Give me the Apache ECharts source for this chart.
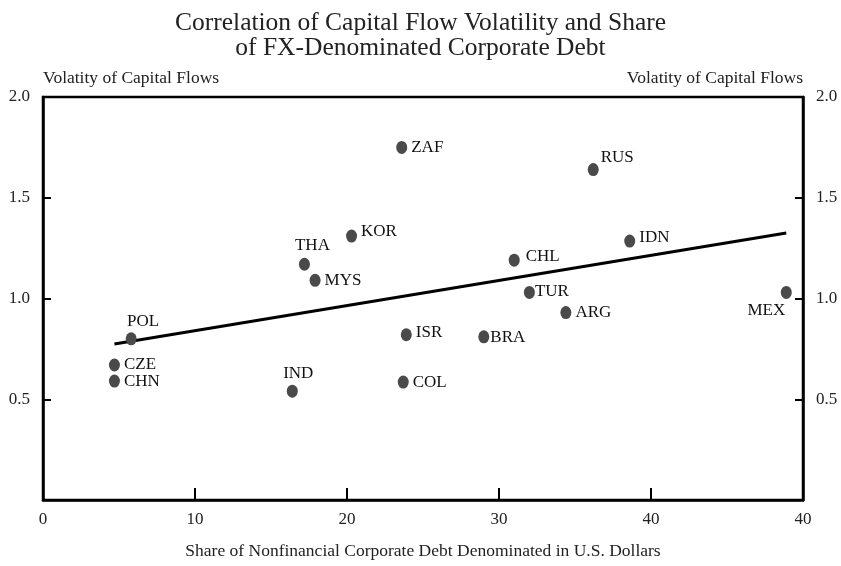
<!DOCTYPE html>
<html>
<head>
<meta charset="utf-8">
<script src="https://cdn.jsdelivr.net/npm/echarts@6/dist/echarts.min.js"></script>
<style>
  html, body { margin: 0; padding: 0; background: #fff; }
  #chart { width: 841px; height: 566px; }
</style>
</head>
<body>
<div id="chart"></div>
<script>
// country codes and their values
const countries = ["POL", "CZE", "CHN", "IND", "THA", "MYS", "KOR", "ZAF", "ISR", "COL", "BRA", "CHL", "TUR", "ARG", "RUS", "IDN", "MEX"];
const dollarShare = [5.8, 4.7, 4.7, 16.4, 17.2, 17.9, 20.3, 23.6, 23.9, 23.7, 29.0, 31.0, 32.0, 34.4, 36.2, 38.6, 48.9];
const volatility = [0.80, 0.67, 0.59, 0.54, 1.17, 1.09, 1.31, 1.75, 0.82, 0.585, 0.81, 1.19, 1.03, 0.93, 1.64, 1.285, 1.03];

// fitted line end points
const trendX = [4.7, 48.9];
const trendY = [0.774, 1.325];

const xTicks = [0, 10, 20, 30, 40, 50];
const xTickLabels = ["0", "10", "20", "30", "40", "40"];

// where each country label sits relative to its dot
const labelPlace = {
  POL: { position: "top", offset: [12, 2] },
  IND: { position: "top", offset: [6, 1] },
  THA: { position: "top", offset: [8, 0] },
  KOR: { position: "right", offset: [0, -5] },
  CHL: { position: "right", offset: [2, -4] },
  ISR: { position: "right", offset: [0, -2] },
  BRA: { position: "right", offset: [-3, 1] },
  TUR: { position: "right", offset: [-4, -1] },
  RUS: { position: "right", offset: [-2, -12] },
  IDN: { position: "right", offset: [0, -4] },
  MEX: { position: "bottom", offset: [-20, -1] }
};

const serif = "Liberation Serif";
const chart = echarts.init(document.getElementById("chart"));

const points = countries.map((c, i) => {
  const p = labelPlace[c] || { position: "right", offset: [0, 0] };
  return {
    name: c,
    value: [dollarShare[i], volatility[i]],
    label: { position: p.position, offset: p.offset }
  };
});

const yAxisBase = {
  type: "value",
  min: 0,
  max: 2,
  interval: 0.5,
  splitLine: { show: false },
  axisLine: { show: true, lineStyle: { color: "#000", width: 2.5 } },
  axisTick: { show: true, inside: true, length: 8, lineStyle: { color: "#000", width: 2 } },
  axisLabel: {
    fontFamily: serif,
    fontSize: 17,
    color: "#222",
    margin: 13,
    formatter: (v) => (v === 0 ? "" : v.toFixed(1))
  },
  name: "Volatity of Capital Flows",
  nameLocation: "end",
  nameGap: 10,
  nameTextStyle: { fontFamily: serif, fontSize: 17.5, color: "#222" }
};

const option = {
  animation: false,
  title: {
    text: "Correlation of Capital Flow Volatility and Share\nof FX-Denominated Corporate Debt",
    left: "center",
    top: 6,
    textStyle: { fontFamily: serif, fontSize: 25.5, fontWeight: "normal", color: "#222", lineHeight: 25 }
  },
  grid: {
    left: 43,
    right: 38,
    top: 97,
    bottom: 66,
    show: true,
    borderColor: "#000",
    borderWidth: 2.5
  },
  xAxis: {
    type: "value",
    min: 0,
    max: 50,
    interval: 10,
    splitLine: { show: false },
    axisLine: { show: true, lineStyle: { color: "#000", width: 2.5 } },
    axisTick: { show: true, inside: true, length: 12, lineStyle: { color: "#000", width: 2 } },
    axisLabel: {
      fontFamily: serif,
      fontSize: 17,
      color: "#222",
      margin: 11,
      formatter: (v) => xTickLabels[xTicks.indexOf(v)]
    },
    name: "Share of Nonfinancial Corporate Debt Denominated in U.S. Dollars",
    nameLocation: "middle",
    nameGap: 42,
    nameTextStyle: { fontFamily: serif, fontSize: 17.5, color: "#222" }
  },
  yAxis: [
    Object.assign({}, yAxisBase, {
      position: "left",
      nameTextStyle: Object.assign({}, yAxisBase.nameTextStyle, { align: "left" })
    }),
    Object.assign({}, yAxisBase, {
      position: "right",
      nameTextStyle: Object.assign({}, yAxisBase.nameTextStyle, { align: "right" })
    })
  ],
  series: [
    {
      type: "line",
      data: trendX.map((x, i) => [x, trendY[i]]),
      showSymbol: false,
      symbol: "none",
      lineStyle: { color: "#000", width: 3 },
      silent: true,
      z: 2
    },
    {
      type: "scatter",
      data: points,
      symbol: "circle",
      symbolSize: [11, 13],
      itemStyle: { color: "#4a4a4a", opacity: 1 },
      label: {
        show: true,
        formatter: "{b}",
        distance: 4,
        fontFamily: serif,
        fontSize: 17,
        color: "#111"
      },
      z: 3
    }
  ]
};

chart.setOption(option);
</script>
</body>
</html>
